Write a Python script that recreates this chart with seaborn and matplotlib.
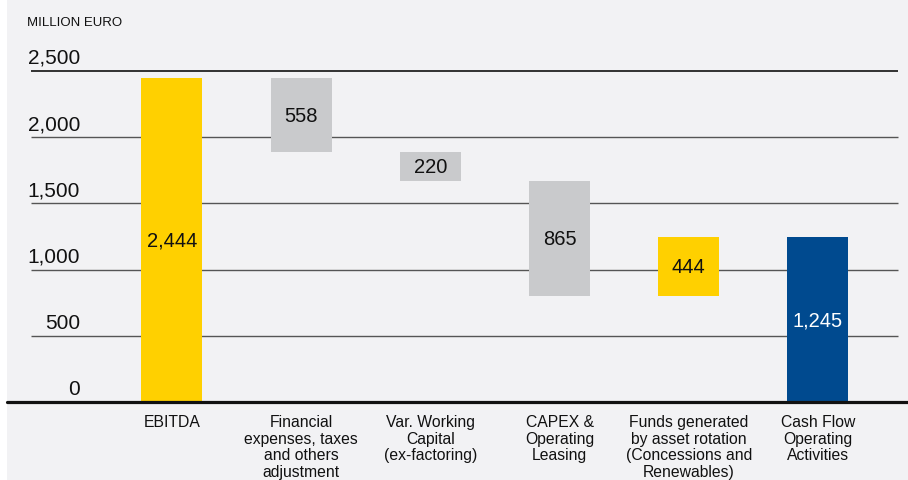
import matplotlib
matplotlib.use("Agg")
import matplotlib.pyplot as plt
from matplotlib.patches import Rectangle
from matplotlib.transforms import offset_copy
import seaborn as sns
import pandas as pd

# Cash-flow bridge, million euro
categories = [
    "EBITDA",
    "Financial\nexpenses, taxes\nand others\nadjustment",
    "Var. Working\nCapital\n(ex-factoring)",
    "CAPEX &\nOperating\nLeasing",
    "Funds generated\nby asset rotation\n(Concessions and\nRenewables)",
    "Cash Flow\nOperating\nActivities",
]
changes = [2444, -558, -220, -865, 444, 1245]
kinds = ["total", "step", "step", "step", "step", "total"]
value_labels = ["2,444", "558", "220", "865", "444", "1,245"]
bar_colors = ["#FFD000", "#C9CACC", "#C9CACC", "#C9CACC", "#FFD000", "#004A8F"]
label_colors = ["#111111", "#111111", "#111111", "#111111", "#111111", "#FFFFFF"]
y_ticks = [0, 500, 1000, 1500, 2000, 2500]
y_tick_labels = ["0", "500", "1,000", "1,500", "2,000", "2,500"]

# floating bar extents from the running total
bottoms, heights = [], []
running = 0
for c, k in zip(changes, kinds):
    if k == "total":
        bottoms.append(0)
        heights.append(c)
        running = c
    else:
        start, end = running, running + c
        bottoms.append(min(start, end))
        heights.append(abs(c))
        running = end

sns.set_theme(style="white")
plt.rcParams["font.family"] = ["Liberation Sans", "DejaVu Sans"]

W, H = 908, 481
fig = plt.figure(figsize=(W / 100, H / 100), dpi=100)
fig.patch.set_facecolor("white")
fig.add_artist(Rectangle((7 / W, 0), 1 - 7 / W, 1, transform=fig.transFigure,
                         facecolor="#F2F2F4", edgecolor="none", zorder=-10))

ax = fig.add_axes([7 / W, (H - 403) / H, (W - 7) / W, (403 - 72) / H])
ax.set_facecolor("none")

df = pd.DataFrame({"category": categories, "height": heights})
sns.barplot(data=df, x="category", y="height", hue="category",
            palette=bar_colors, legend=False, width=0.472, saturation=1,
            ax=ax, zorder=3, linewidth=0)

# lift each bar onto its running-total base
for p in ax.patches:
    i = int(round(p.get_x() + p.get_width() / 2))
    p.set_y(bottoms[i])
    ax.text(i, bottoms[i] + heights[i] / 2, value_labels[i],
            ha="center", va="center", fontsize=14.5, color=label_colors[i],
            zorder=5)

ax.set_xlim(-1.277, 5.697)
ax.set_ylim(0, 2500)
ax.set_xticks([])
ax.set_yticks([])
ax.set_xlabel("")
ax.set_ylabel("")
for s in ax.spines.values():
    s.set_visible(False)

# horizontal rules and their labels
ytrans = ax.get_yaxis_transform()
x_lo, x_hi = (31 - 7) / (W - 7), (898 - 7) / (W - 7)
for v in y_ticks[1:]:
    top = v == y_ticks[-1]
    ax.hlines(v, x_lo, x_hi, transform=ytrans, colors="#222222" if top else "#555555",
              linewidth=1.3 if top else 1.0, zorder=1, clip_on=False)
ax.axhline(0, color="#111111", linewidth=2.3, zorder=4, clip_on=False)

lab_trans = offset_copy(ytrans, fig=fig, y=8, units="dots")
for v, t in zip(y_ticks, y_tick_labels):
    ax.text((80 - 7) / (W - 7), v, t, transform=lab_trans, ha="right",
            va="baseline", fontsize=15, color="#111111")

cat_trans = offset_copy(ax.get_xaxis_transform(), fig=fig, y=-12, units="dots")
for i, c in enumerate(categories):
    ax.text(i, 0, c, transform=cat_trans, ha="center", va="top",
            fontsize=11.3, linespacing=1.13, color="#111111")

fig.text(27 / W, 1 - 26 / H, "MILLION EURO", ha="left", va="baseline",
         fontsize=9.5, color="#111111")

fig.savefig("out.png", dpi=100, facecolor=fig.get_facecolor())
